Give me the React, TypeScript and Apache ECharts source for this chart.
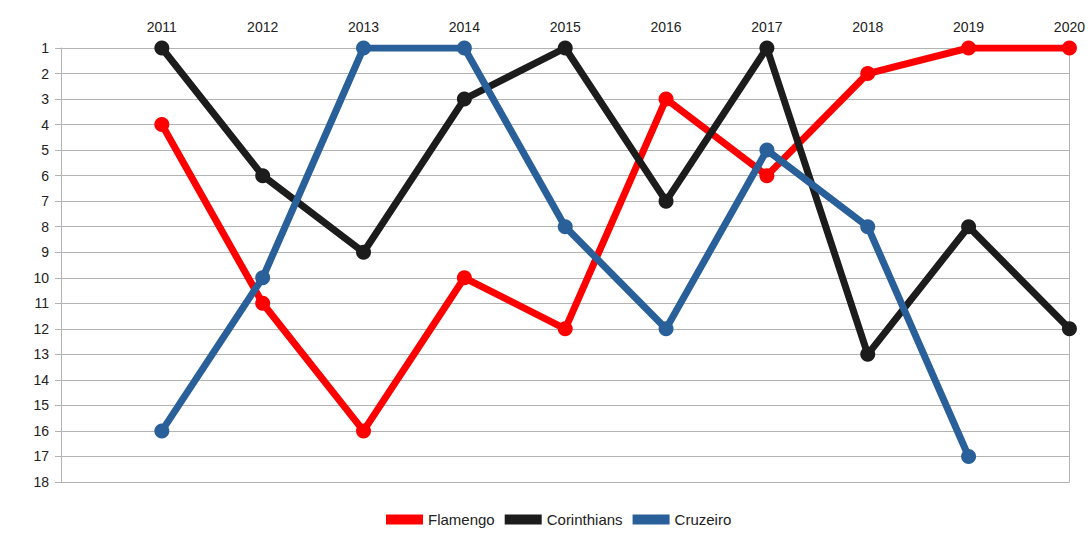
import React, { useEffect, useRef } from "react";
import * as echarts from "echarts";

const years = [2011, 2012, 2013, 2014, 2015, 2016, 2017, 2018, 2019, 2020];
const flamengo = [4, 11, 16, 10, 12, 3, 6, 2, 1, 1];
const corinthians = [1, 6, 9, 3, 1, 7, 1, 13, 8, 12];
const cruzeiro: (number | null)[] = [16, 10, 1, 1, 8, 12, 5, 8, 17, null];

const seriesDefs = [
  { name: "Flamengo", data: flamengo, color: "#ff0000" },
  { name: "Corinthians", data: corinthians, color: "#1c1c1c" },
  { name: "Cruzeiro", data: cruzeiro, color: "#2a6099" },
];

export default function App() {
  const ref = useRef<HTMLDivElement>(null);
  useEffect(() => {
    document.body.style.margin = "0";
    document.body.style.overflow = "hidden";
    if (!ref.current) return;
    const chart = echarts.init(ref.current, undefined, { renderer: "svg" });
    chart.setOption({
      animation: false,
      textStyle: { fontFamily: "Liberation Sans" },
      grid: { left: 61, right: 16, top: 48, bottom: 51 },
      legend: {
        bottom: 1,
        left: 381,
        icon: "rect",
        itemWidth: 37,
        itemHeight: 10,
        itemGap: 10,
        textStyle: { fontSize: 15, color: "#222", fontFamily: "Liberation Sans" },
        data: seriesDefs.map((s) => s.name),
      },
      xAxis: {
        type: "value",
        position: "top",
        min: 2010,
        max: 2020,
        interval: 1,
        axisLine: { show: true, lineStyle: { color: "#b3b3b3", width: 1 } },
        axisTick: { show: false },
        splitLine: { show: false },
        axisLabel: {
          fontSize: 14,
          color: "#222",
          margin: 14,
          formatter: (v: number) => (years.indexOf(v) >= 0 ? String(v) : ""),
        },
      },
      yAxis: [
        {
          type: "value",
          inverse: true,
          min: 1,
          max: 18,
          interval: 1,
          axisLine: { show: true, lineStyle: { color: "#b3b3b3" } },
          axisTick: { show: true, length: 6, lineStyle: { color: "#b3b3b3" } },
          splitLine: { show: true, lineStyle: { color: "#b3b3b3", width: 1 } },
          axisLabel: { fontSize: 14, color: "#222", margin: 12 },
        },
        {
          type: "value",
          position: "right",
          inverse: true,
          min: 1,
          max: 18,
          interval: 1,
          axisLine: { show: true, lineStyle: { color: "#b3b3b3" } },
          axisTick: { show: false },
          splitLine: { show: false },
          axisLabel: { show: false },
        },
      ],
      series: seriesDefs.map((s) => ({
        name: s.name,
        type: "line",
        yAxisIndex: 0,
        data: years.map((y, i) => (s.data[i] == null ? null : [y, s.data[i]])),
        symbol: "circle",
        symbolSize: 15,
        lineStyle: { color: s.color, width: 7 },
        itemStyle: { color: s.color },
        color: s.color,
      })),
    });
    return () => chart.dispose();
  }, []);
  return <div ref={ref} style={{ width: 1088, height: 533 }} />;
}
